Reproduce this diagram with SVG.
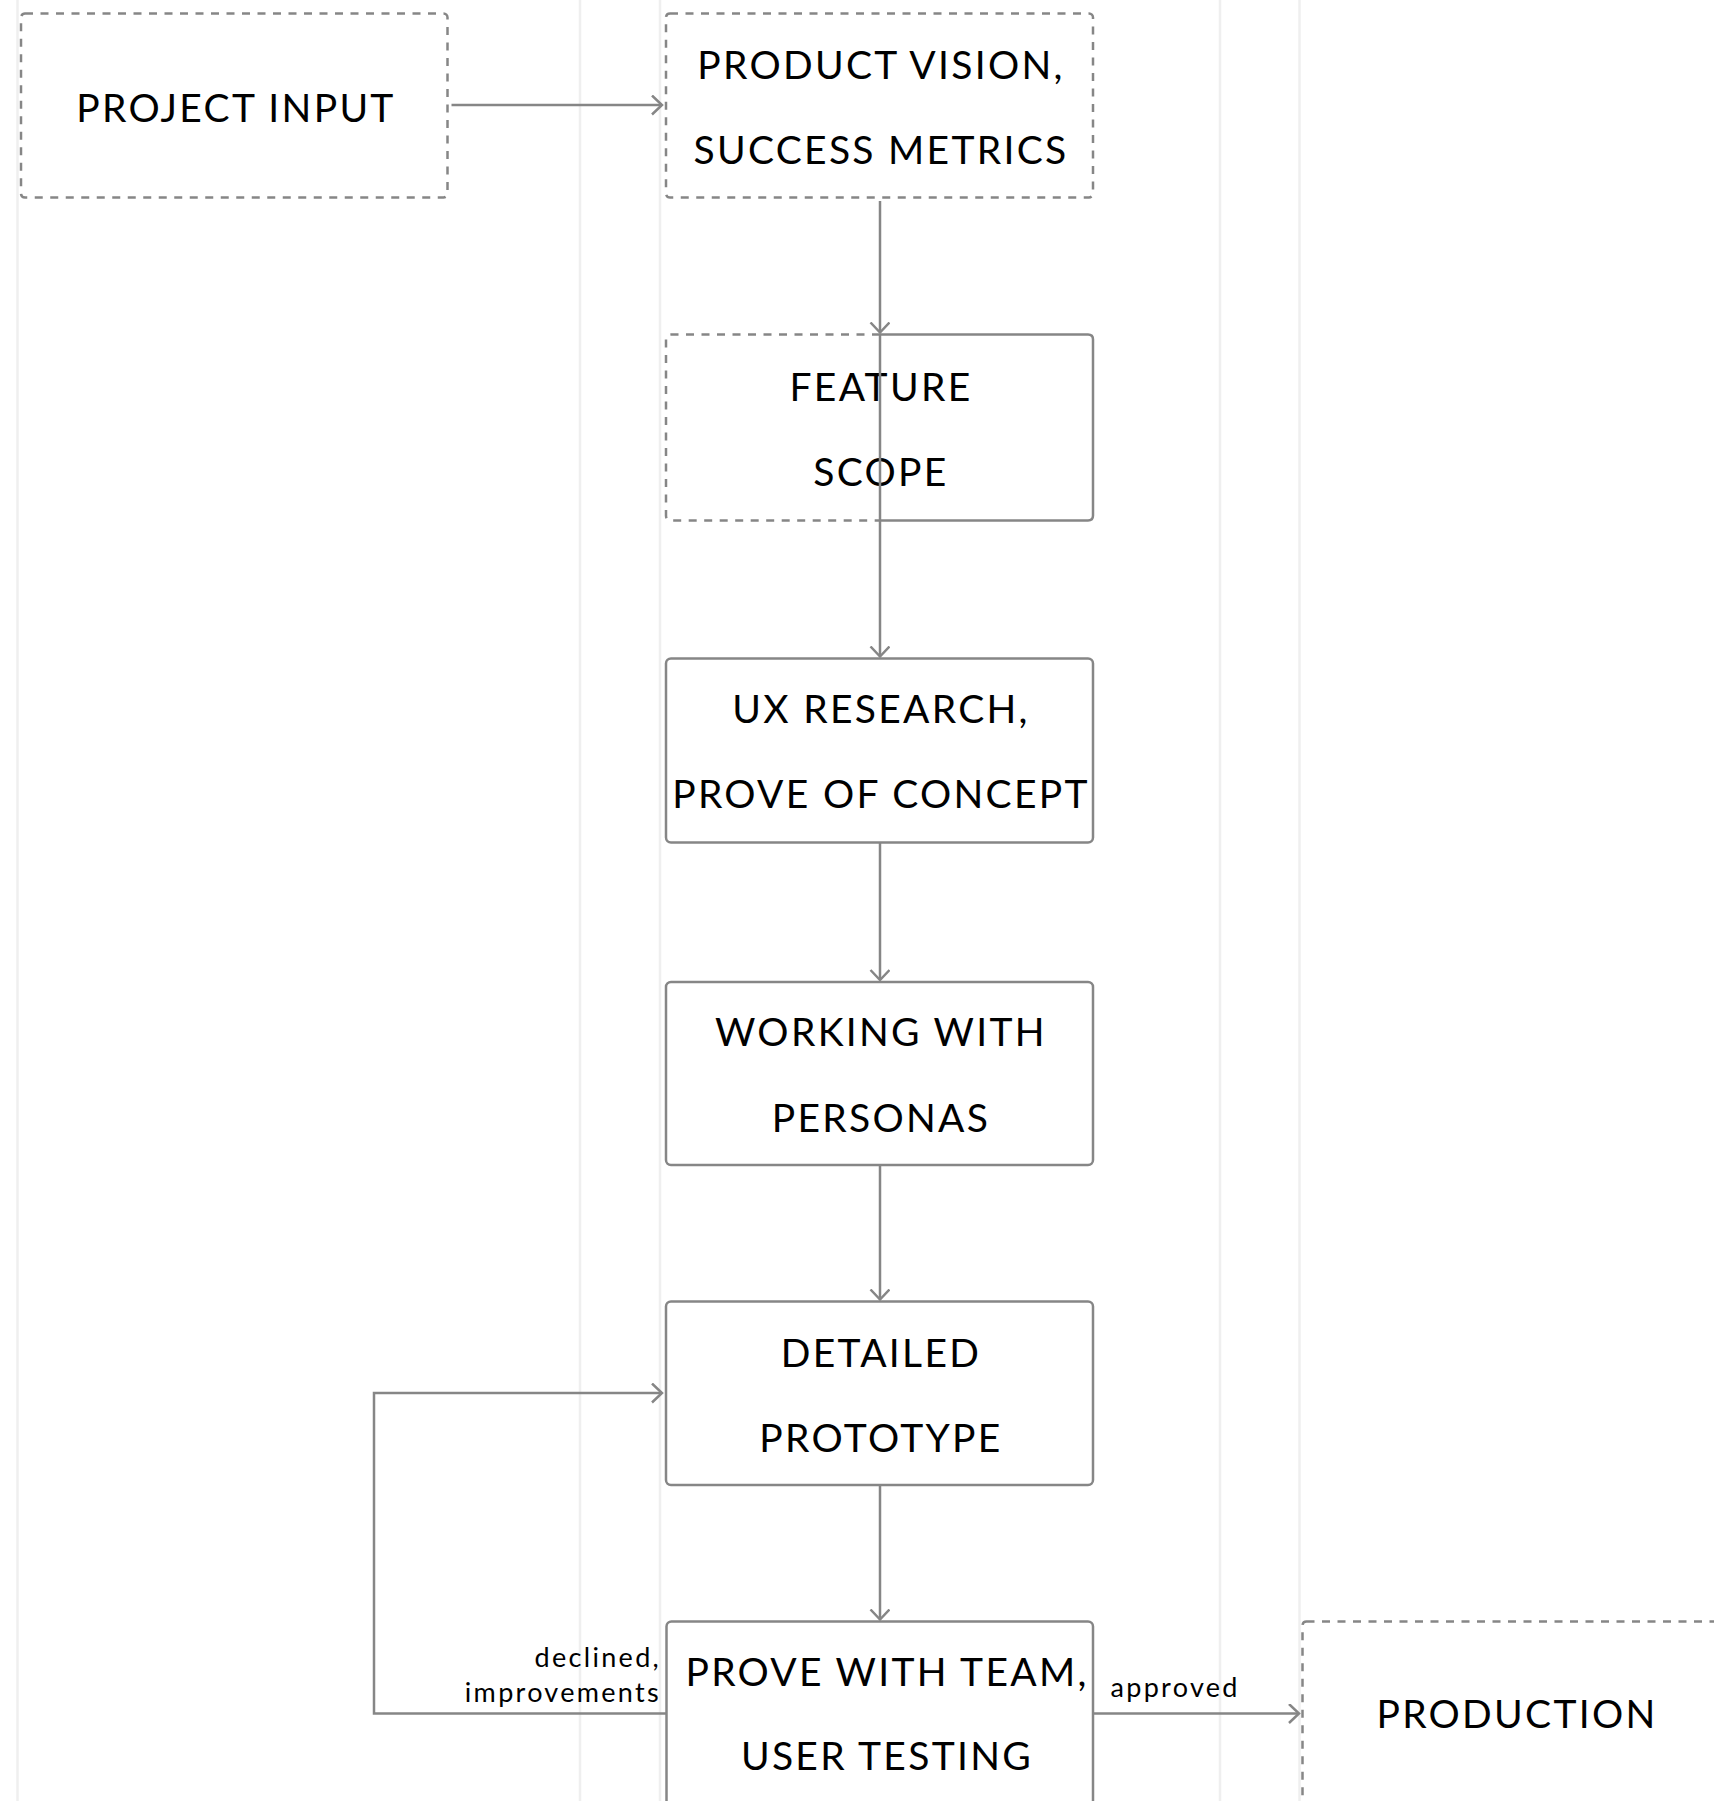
<svg xmlns="http://www.w3.org/2000/svg" width="1714" height="1801" viewBox="0 0 1714 1801">
<defs>
<style>
.lane{stroke:#efefef;stroke-width:2.5;fill:none}
.box{fill:none;stroke:#868686;stroke-width:2.5}
.dash{fill:none;stroke:#868686;stroke-width:2.5;stroke-dasharray:8 7.5}
.edge{fill:none;stroke:#868686;stroke-width:2.5}
.t{font-family:Lato,'Liberation Sans',sans-serif;font-size:39px;letter-spacing:2.3px;fill:#000;text-anchor:middle}
.l{font-family:Lato,'Liberation Sans',sans-serif;font-size:27px;letter-spacing:2.3px;fill:#000}
</style>
<marker id="arr" markerWidth="24" markerHeight="24" refX="11" refY="10" orient="auto" markerUnits="userSpaceOnUse">
<path d="M1,0.5 L11,10 L1,19.5" fill="none" stroke="#868686" stroke-width="2.5"/>
</marker>
</defs>
<rect width="1714" height="1801" fill="#ffffff"/>
<g id="lanes">
<line class="lane" x1="17.5" y1="0" x2="17.5" y2="1801"/>
<line class="lane" x1="580" y1="0" x2="580" y2="1801"/>
<line class="lane" x1="660" y1="0" x2="660" y2="1801"/>
<line class="lane" x1="1220" y1="0" x2="1220" y2="1801"/>
<line class="lane" x1="1299.5" y1="0" x2="1299.5" y2="1801"/>
</g>
<g id="project-input">
<rect class="dash" x="21" y="13.5" width="426.5" height="184" rx="4"/>
<text class="t" x="236" y="122">PROJECT INPUT</text>
</g>
<g id="product-vision">
<rect class="dash" x="666" y="13.5" width="427" height="184" rx="4"/>
<text class="t" x="881" y="78.5">PRODUCT VISION,</text>
<text class="t" x="881" y="163.5">SUCCESS METRICS</text>
</g>
<g id="feature-scope">
<path class="dash" d="M880,334.5 H671 Q666,334.5 666,339.5 V515.5 Q666,520.5 671,520.5 H880"/>
<path class="box" d="M880,334.5 H1088 Q1093,334.5 1093,339.5 V515.5 Q1093,520.5 1088,520.5 H880"/>
<text class="t" x="881" y="400.5">FEATURE</text>
<text class="t" x="881" y="485.5">SCOPE</text>
</g>
<g id="ux-research">
<rect class="box" x="666" y="658.5" width="427" height="184" rx="5"/>
<text class="t" x="881" y="722.5">UX RESEARCH,</text>
<text class="t" x="881" y="808">PROVE OF CONCEPT</text>
</g>
<g id="working-personas">
<rect class="box" x="666" y="982" width="427" height="183" rx="5"/>
<text class="t" x="881" y="1046">WORKING WITH</text>
<text class="t" x="881" y="1131.5">PERSONAS</text>
</g>
<g id="detailed-prototype">
<rect class="box" x="666" y="1301.5" width="427" height="183.5" rx="5"/>
<text class="t" x="881" y="1366.5">DETAILED</text>
<text class="t" x="881" y="1451.5">PROTOTYPE</text>
</g>
<g id="prove-team">
<rect class="box" x="666.5" y="1621.5" width="426.5" height="184" rx="5"/>
<text class="t" x="887" y="1686">PROVE WITH TEAM,</text>
<text class="t" x="887" y="1770">USER TESTING</text>
</g>
<g id="production">
<rect class="dash" x="1302.5" y="1621.5" width="427" height="184" rx="4"/>
<text class="t" x="1517" y="1728">PRODUCTION</text>
</g>
<g id="connectors">
<path class="edge" d="M451.5,105 H662" marker-end="url(#arr)"/>
<path class="edge" d="M880,201 V332.5" marker-end="url(#arr)"/>
<path class="edge" d="M880,334.5 V656.5" marker-end="url(#arr)"/>
<path class="edge" d="M880,843 V980" marker-end="url(#arr)"/>
<path class="edge" d="M880,1166 V1299.5" marker-end="url(#arr)"/>
<path class="edge" d="M880,1486 V1619.5" marker-end="url(#arr)"/>
<path class="edge" d="M1093,1713.5 H1299" marker-end="url(#arr)"/>
<path class="edge" d="M666.5,1713.5 H374 V1393 H662" marker-end="url(#arr)"/>
<text class="l" x="661" y="1667.3" text-anchor="end">declined,</text>
<text class="l" x="661" y="1701.7" text-anchor="end">improvements</text>
<text class="l" x="1110.5" y="1696.7">approved</text>
</g>
</svg>
